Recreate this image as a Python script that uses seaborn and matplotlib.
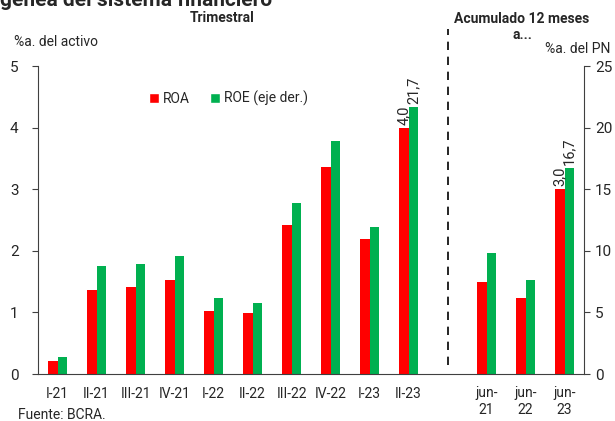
import numpy as np
import pandas as pd
import matplotlib
matplotlib.use("Agg")
import matplotlib.pyplot as plt
from matplotlib.ticker import FixedLocator
from matplotlib.patches import Patch
import seaborn as sns

# Datos
periodos = ["I-21", "II-21", "III-21", "IV-21", "I-22", "II-22", "III-22",
            "IV-22", "I-23", "II-23", " ", "jun-\n21", "jun-\n22", "jun-\n23"]
roa = [0.21, 1.37, 1.41, 1.53, 1.03, 0.99, 2.42, 3.36, 2.19, 4.0, np.nan, 1.49, 1.24, 3.0]
roe = [1.35, 8.8, 8.9, 9.6, 6.2, 5.8, 13.9, 18.9, 11.9, 21.7, np.nan, 9.8, 7.6, 16.7]
etiquetas_roa = ["", "", "", "", "", "", "", "", "", "4,0", "", "", "", "3,0"]
etiquetas_roe = ["", "", "", "", "", "", "", "", "", "21,7", "", "", "", "16,7"]
series = ["ROA", "ROE (eje der.)"]

# escalas: eje izq 0-5, eje der 0-25
LIM_IZQ = 5
LIM_DER = 25

sns.set_style("white")
plt.rcParams['font.family'] = ['Roboto', 'DejaVu Sans']
plt.rcParams['font.size'] = 10

# el ROE se dibuja en la escala del eje izquierdo (eje der. = izq * 5)
df = pd.concat([
    pd.DataFrame({"periodo": periodos, "valor": roa, "serie": series[0]}),
    pd.DataFrame({"periodo": periodos, "valor": np.array(roe) * LIM_IZQ / LIM_DER,
                  "serie": series[1]}),
], ignore_index=True)
colores = {series[0]: "#ff0000", series[1]: "#00b050"}

fig = plt.figure(figsize=(6.15, 4.21), dpi=100)
ax = fig.add_axes([38 / 615, 1 - 374 / 421, 546 / 615, 308 / 421])

sns.barplot(data=df, x="periodo", y="valor", hue="serie", hue_order=series,
            order=periodos, palette=colores, width=0.5, ax=ax, legend=False,
            saturation=1, linewidth=0)

ax2 = ax.twinx()
ax.set_ylim(0, LIM_IZQ)
ax2.set_ylim(0, LIM_DER)
ax.set_xlim(-0.5, len(periodos) - 0.5)
ax.set_yticks([0, 1, 2, 3, 4, 5])
ax2.set_yticks([0, 5, 10, 15, 20, 25])
ax.set_xlabel("")
ax.set_ylabel("")
ax2.set_ylabel("")

for a in (ax, ax2):
    a.spines["top"].set_visible(False)
    for s in a.spines.values():
        s.set_color("#404040")
ax.spines["right"].set_visible(False)
ax2.spines["left"].set_visible(False)
ax2.spines["bottom"].set_visible(False)

ax.tick_params(axis="x", length=0, pad=9, labelsize=10)
ax.xaxis.set_minor_locator(FixedLocator(np.arange(-0.5, len(periodos), 1)))
ax.tick_params(axis="x", which="minor", length=4, direction="out", color="#404040")
ax.tick_params(axis="y", length=4, direction="out", color="#404040", labelsize=11, pad=10)
ax2.tick_params(axis="y", length=4, direction="out", color="#404040", labelsize=11, pad=4)

# etiquetas de valor (solo barras presentes)
for cont, etiq, vals in zip(ax.containers, [etiquetas_roa, etiquetas_roe], [roa, roe]):
    etiq_validas = [e for e, v in zip(etiq, vals) if not np.isnan(v)]
    if len(etiq_validas) != len(cont):
        etiq_validas = etiq
    ax.bar_label(cont, labels=etiq_validas, rotation=90, padding=2, fontsize=10.5)

# separador
ax.axvline(10, ymin=0.03, ymax=1.12, color="black", linestyle=(0, (5, 4)),
           linewidth=1.2, clip_on=False)

# leyenda
handles = [Patch(facecolor=colores[s], label=s) for s in series]
ax.legend(handles=handles, loc="upper left", bbox_to_anchor=(0.18, 0.96), ncol=2,
          frameon=False, handlelength=0.7, handleheight=0.7, handletextpad=0.3,
          columnspacing=1.5, fontsize=10)

fig.text(14 / 615, 1 - 42 / 421, "%a. del activo", fontsize=10, va="center", ha="left")
fig.text(610 / 615, 1 - 49 / 421, "%a. del PN", fontsize=10, va="center", ha="right")
fig.text(222 / 615, 1 - 18 / 421, "Trimestral", fontsize=10, fontweight="bold",
         va="center", ha="center")
fig.text(522 / 615, 1 - 27 / 421, "Acumulado 12 meses\na...", fontsize=10,
         fontweight="bold", va="center", ha="center", linespacing=1.25)
fig.text(0 / 615, 1 - 1 / 421, "genea del sistema financiero", fontsize=15,
         fontweight="bold", va="center", ha="left")
fig.text(18 / 615, 1 - 415 / 421, "Fuente: BCRA.", fontsize=10, va="center", ha="left")

fig.savefig("out.png", dpi=100)
